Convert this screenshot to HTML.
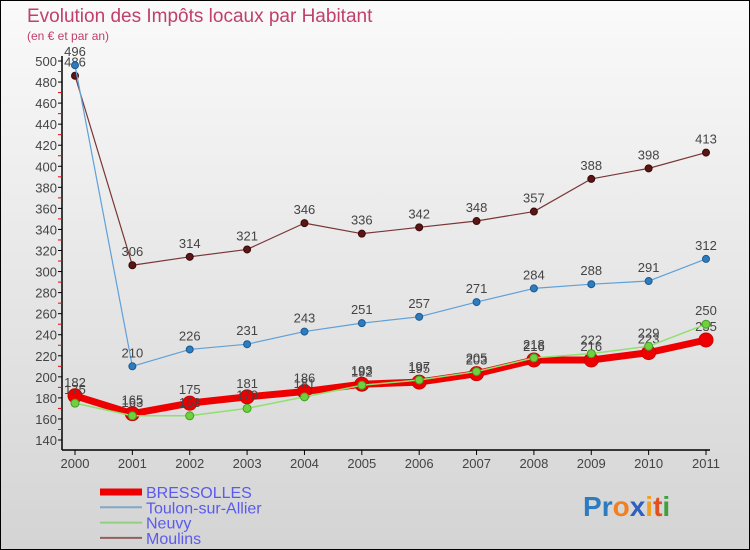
<!DOCTYPE html>
<html><head><meta charset="utf-8"><style>
body{margin:0}
#c{width:748px;height:548px;border:1px solid #000;background:linear-gradient(#fafafa,#d4d4d4);position:relative;overflow:hidden;font-family:"Liberation Sans",sans-serif}
</style></head><body>
<div id="c">
<svg id="s" width="748" height="548" style="position:absolute;left:-1px;top:-1px;overflow:visible"></svg>
</div>
<script>
const years=["2000","2001","2002","2003","2004","2005","2006","2007","2008","2009","2010","2011"];
const bressolles=[182,165,175,181,186,193,195,203,216,216,223,235];
const toulon=[496,210,226,231,243,251,257,271,284,288,291,312];
const neuvy=[175,163,163,170,181,192,197,205,218,222,229,250];
const moulins=[486,306,314,321,346,336,342,348,357,388,398,413];
const yTicks=[140,160,180,200,220,240,260,280,300,320,340,360,380,400,420,440,460,480,500];
const NS="http://www.w3.org/2000/svg";
const s=document.getElementById('s');
const X=i=>75+i*(706-75)/11;
const Y=v=>440-(v-140)*(440-61)/360;
function el(t,a,p){const e=document.createElementNS(NS,t);for(const k in a)e.setAttribute(k,a[k]);(p||s).appendChild(e);return e;}
function txt(x,y,str,a){const e=el('text',Object.assign({x:x,y:y,'font-size':13,fill:'#444'},a));e.textContent=str;return e;}
// title
let t=txt(27,22,"Evolution des Impôts locaux par Habitant",{'font-size':19,fill:'#c0406a'});

t=txt(27,40,"(en € et par an)",{'font-size':12,fill:'#c0406a'});

// axes
let ax=el('line',{x1:62,y1:56,x2:62,y2:450,stroke:'#000','stroke-width':1.5});

ax=el('line',{x1:62,y1:450,x2:710,y2:450,stroke:'#000','stroke-width':1.5});

yTicks.forEach((v,i)=>{
  el('line',{x1:58,y1:Y(v),x2:62,y2:Y(v),stroke:'#000'});
  if(i<yTicks.length-1)el('line',{x1:58,y1:Y(v+10),x2:62,y2:Y(v+10),stroke:'#e00'});
  const l=txt(57,Y(v)+5,String(v),{'text-anchor':'end'});
  
});
years.forEach((y,i)=>{
  el('line',{x1:X(i),y1:450,x2:X(i),y2:455,stroke:'#000'});
  const l=txt(X(i),468,y,{'text-anchor':'middle'});
  
});
function series(name,data,color,w,r,dot,stroke){
  const g=el('g',{});
  
  el('polyline',{points:data.map((v,i)=>X(i)+','+Y(v)).join(' '),fill:'none',stroke:color,'stroke-width':w,'stroke-linejoin':'round'},g);
  data.forEach((v,i)=>{
    const c=el('circle',{cx:X(i),cy:Y(v),r:r,fill:dot,stroke:stroke,'stroke-width':1},g);
    
    const l=txt(X(i),Y(v)-9,String(v),{'text-anchor':'middle',fill:'#444'},g);
    
  });
}
series('moulins',moulins,'#7a3535',1.2,3.5,'#5a1515','#3a0a0a');
series('toulon',toulon,'#5fa0d8',1.2,3.5,'#2e7cc0','#1a5a90');
series('bressolles',bressolles,'#ee0000',7,7,'#ee0000','#cc0000');
series('neuvy',neuvy,'#90e070',1.5,4,'#70d040','#40a020');
// legend
const leg=[['BRESSOLLES','#ee0000',7],['Toulon-sur-Allier','#80a8c8',2],['Neuvy','#90d080',2],['Moulins','#906060',2]];
leg.forEach((d,i)=>{
  const y=492+i*15.3;
  const g=el('g',{});
  el('line',{x1:100,y1:y,x2:142,y2:y,stroke:d[1],'stroke-width':d[2]},g);
  txt(146,y+6,d[0],{'font-size':16,fill:'#5a5aee'},g);
});
const lg=txt(583,516,'',{'font-size':28,'font-weight':'bold'});

[['P','#2e7cc0'],['r','#2e7cc0'],['o','#f08020'],['x','#2e60c0'],['i','#f0a020'],['t','#e05020'],['i','#40a040']].forEach(c=>{const sp=el('tspan',{fill:c[1]},lg);sp.textContent=c[0];});
</script>
</body></html>
